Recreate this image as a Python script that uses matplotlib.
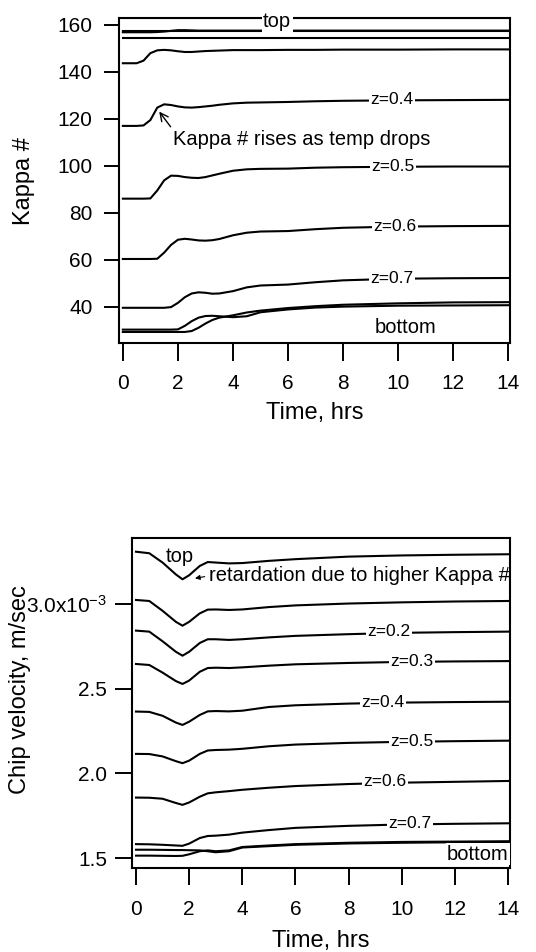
import numpy as np
import matplotlib
matplotlib.use("Agg")
import matplotlib.pyplot as plt

plt.rcParams['font.family'] = ['Liberation Sans', 'DejaVu Sans']
plt.rcParams['mathtext.fontset'] = 'custom'
plt.rcParams['mathtext.rm'] = 'Liberation Sans'
plt.rcParams['mathtext.it'] = 'Liberation Sans:italic'

# ---- Kappa number vs time (upper panel) ----
t_kappa = [0, 0.5, 0.75, 1.0, 1.25, 1.5, 1.75, 2.0, 2.25, 2.5, 2.75, 3.0,
           3.25, 3.5, 4.0, 4.5, 5.0, 6.0, 7.0, 8.0, 10.0, 12.0, 14.0]
kappa_top = [162.8] * 23
kappa_1 = [157.6] * 23
kappa_2 = [156.9, 156.9, 156.9, 156.9, 157.0, 157.2, 157.5, 157.8, 157.8, 157.7, 157.6, 157.6,
           157.6, 157.6, 157.6, 157.6, 157.6, 157.6, 157.6, 157.6, 157.6, 157.6, 157.6]
kappa_3 = [154.3] * 23
kappa_4 = [143.7, 143.7, 144.8, 148.0, 149.2, 149.4, 149.2, 148.8, 148.5, 148.5, 148.7, 148.9,
           149.0, 149.1, 149.3, 149.3, 149.3, 149.4, 149.4, 149.5, 149.5, 149.6, 149.6]
kappa_z04 = [117.0, 117.0, 117.2, 119.5, 124.8, 126.2, 125.9, 125.3, 124.9, 124.8, 125.0, 125.3,
             125.6, 126.0, 126.6, 126.9, 127.0, 127.2, 127.5, 127.7, 127.9, 128.0, 128.1]
kappa_z05 = [86.0, 86.0, 86.0, 86.1, 89.5, 93.8, 95.8, 95.7, 95.2, 94.9, 94.8, 95.2,
             95.9, 96.6, 97.9, 98.5, 98.7, 98.8, 99.2, 99.4, 99.6, 99.7, 99.7]
kappa_z06 = [60.3, 60.3, 60.3, 60.3, 60.4, 63.0, 66.3, 68.5, 68.9, 68.6, 68.2, 68.1,
             68.3, 68.8, 70.4, 71.5, 72.0, 72.2, 73.0, 73.6, 74.1, 74.3, 74.4]
kappa_z07 = [39.5, 39.5, 39.5, 39.5, 39.5, 39.5, 39.8, 41.6, 44.0, 45.6, 46.1, 45.9,
             45.5, 45.6, 46.6, 48.2, 49.0, 49.4, 50.4, 51.2, 51.9, 52.1, 52.2]
kappa_z08 = [30.2, 30.2, 30.2, 30.2, 30.2, 30.2, 30.2, 30.3, 31.8, 33.8, 35.3, 36.0,
             36.1, 35.9, 35.5, 35.9, 37.6, 38.8, 39.6, 40.0, 40.4, 40.5, 40.6]
kappa_bot = [29.2, 29.2, 29.2, 29.2, 29.2, 29.2, 29.2, 29.2, 29.2, 29.6, 31.0, 32.8,
             34.3, 35.3, 36.3, 37.5, 38.3, 39.4, 40.2, 40.8, 41.4, 41.8, 41.9]

# ---- chip velocity (x1e-3 m/sec) vs time (lower panel) ----
t_vel = [0, 0.5, 1.0, 1.5, 1.75, 2.0, 2.4, 2.7, 3.0, 3.5, 4.0, 5.0, 6.0, 8.0, 10.0, 12.0, 14.0]
vel_top = [3.309, 3.300, 3.245, 3.175, 3.146, 3.170, 3.225, 3.248, 3.245, 3.240, 3.242,
           3.255, 3.265, 3.280, 3.287, 3.291, 3.294]
vel_z01 = [3.024, 3.018, 2.960, 2.895, 2.872, 2.895, 2.945, 2.967, 2.968, 2.965, 2.968,
           2.982, 2.992, 3.003, 3.010, 3.015, 3.018]
vel_z02 = [2.843, 2.837, 2.780, 2.718, 2.695, 2.718, 2.770, 2.792, 2.792, 2.788, 2.792,
           2.803, 2.812, 2.822, 2.830, 2.834, 2.837]
vel_z03 = [2.646, 2.640, 2.595, 2.545, 2.528, 2.548, 2.600, 2.622, 2.624, 2.622, 2.626,
           2.636, 2.644, 2.652, 2.658, 2.661, 2.663]
vel_z04 = [2.365, 2.363, 2.340, 2.300, 2.286, 2.305, 2.345, 2.366, 2.368, 2.366, 2.370,
           2.392, 2.402, 2.412, 2.418, 2.421, 2.423]
vel_z05 = [2.115, 2.114, 2.100, 2.072, 2.060, 2.075, 2.115, 2.135, 2.138, 2.140, 2.145,
           2.160, 2.170, 2.180, 2.186, 2.190, 2.193]
vel_z06 = [1.857, 1.856, 1.850, 1.825, 1.814, 1.828, 1.862, 1.882, 1.888, 1.895, 1.903,
           1.915, 1.925, 1.937, 1.945, 1.950, 1.955]
vel_z07 = [1.582, 1.581, 1.578, 1.574, 1.572, 1.585, 1.618, 1.630, 1.632, 1.638, 1.650,
           1.665, 1.678, 1.690, 1.698, 1.702, 1.705]
vel_z08 = [1.549, 1.549, 1.548, 1.547, 1.547, 1.546, 1.545, 1.540, 1.534, 1.540, 1.562,
           1.570, 1.578, 1.586, 1.590, 1.593, 1.595]
vel_bot = [1.514, 1.514, 1.513, 1.512, 1.513, 1.522, 1.540, 1.545, 1.540, 1.545, 1.565,
           1.574, 1.582, 1.590, 1.595, 1.597, 1.599]

kappa_lines = [kappa_top, kappa_1, kappa_2, kappa_3, kappa_4, kappa_z04,
               kappa_z05, kappa_z06, kappa_z07, kappa_z08, kappa_bot]
vel_lines = [vel_top, vel_z01, vel_z02, vel_z03, vel_z04, vel_z05,
             vel_z06, vel_z07, vel_z08, vel_bot]

kappa_ticks = [40, 60, 80, 100, 120, 140, 160]
vel_ticks = [1.5, 2.0, 2.5, 3.0]
vel_ticklabels = ['1.5', '2.0', '2.5', '3.0x10$^{-3}$']
time_ticks = [0, 2, 4, 6, 8, 10, 12, 14]

fig = plt.figure(figsize=(5.36, 9.52), dpi=100)
ax1 = fig.add_axes([119/536, 1 - 343/952, (510 - 119)/536, (343 - 18.3)/952])
ax2 = fig.add_axes([132/536, 1 - 868/952, (510 - 132)/536, (868 - 538)/952])

lw = 1.5
box = dict(facecolor='white', edgecolor='none', pad=1.0)

# upper panel
for k in kappa_lines:
    ax1.plot(t_kappa, k, color='black', lw=lw)
ax1.set_xlim(-0.14, 14.06)
ax1.set_ylim(24.5, 162.85)
ax1.set_yticks(kappa_ticks)
ax1.set_xticks(time_ticks)
ax1.tick_params(axis='y', direction='out', length=11, width=1.4, labelsize=15, pad=8)
ax1.tick_params(axis='x', direction='out', length=13, width=1.4, labelsize=15, pad=9)
ax1.set_xlabel('Time, hrs', fontsize=17, labelpad=7)
ax1.set_ylabel('Kappa #', fontsize=17)
ax1.yaxis.set_label_coords(-0.215, 0.5)

ax1.text(5.6, 161.4, 'top', fontsize=14.5, ha='center', va='center', bbox=box, zorder=5)
for x, y, s in [(9.78, 128.1, 'z=0.4'), (9.81, 99.7, 'z=0.5'),
                (9.88, 74.2, 'z=0.6'), (9.78, 52.1, 'z=0.7')]:
    ax1.text(x, y, s, fontsize=12.5, ha='center', va='center', bbox=box)
ax1.text(10.25, 31.3, 'bottom', fontsize=14.5, ha='center', va='center')
ax1.annotate('Kappa # rises as temp drops', xy=(1.32, 123.1), xytext=(1.81, 111.4),
             fontsize=14.5, ha='left', va='center',
             arrowprops=dict(arrowstyle='->', color='black', lw=1,
                             relpos=(0, 1), shrinkA=0, shrinkB=0))

# lower panel
for v in vel_lines:
    ax2.plot(t_vel, np.array(v) * 1e-3, color='black', lw=lw)
ax2.set_xlim(-0.15, 14.07)
ax2.set_ylim(1.441e-3, 3.39e-3)
ax2.set_yticks(np.array(vel_ticks) * 1e-3)
ax2.set_yticklabels(vel_ticklabels)
ax2.set_xticks(time_ticks)
ax2.tick_params(axis='y', direction='out', length=12, width=1.4, labelsize=15, pad=6)
ax2.tick_params(axis='x', direction='out', length=12, width=1.4, labelsize=15, pad=11)
ax2.set_xlabel('Time, hrs', fontsize=17, labelpad=8)
ax2.set_ylabel('Chip velocity, m/sec', fontsize=17)
ax2.yaxis.set_label_coords(-0.268, 0.54)

ax2.text(1.65, 3.28e-3, 'top', fontsize=14.5, ha='center', va='center')
ax2.annotate('retardation due to higher Kappa #', xy=(2.22, 3.152e-3), xytext=(2.74, 3.166e-3),
             fontsize=14.5, ha='left', va='center', annotation_clip=False, clip_on=True,
             arrowprops=dict(arrowstyle='-|>', color='black', lw=0.8, mutation_scale=7,
                             relpos=(0, 0.5), shrinkA=1, shrinkB=0))
for x, y, s in [(9.51, 2.836, 'z=0.2'), (10.38, 2.662, 'z=0.3'), (9.29, 2.421, 'z=0.4'),
                (10.38, 2.191, 'z=0.5'), (9.36, 1.951, 'z=0.6'), (10.30, 1.702, 'z=0.7')]:
    ax2.text(x, y * 1e-3, s, fontsize=12.5, ha='center', va='center', bbox=box)
ax2.text(14.03, 1.522e-3, 'bottom', fontsize=14.5, ha='right', va='center',
         bbox=dict(facecolor='white', edgecolor='none', pad=1), clip_on=True)

for ax in (ax1, ax2):
    for sp in ax.spines.values():
        sp.set_linewidth(1.5)

fig.savefig('out.png', dpi=100)
